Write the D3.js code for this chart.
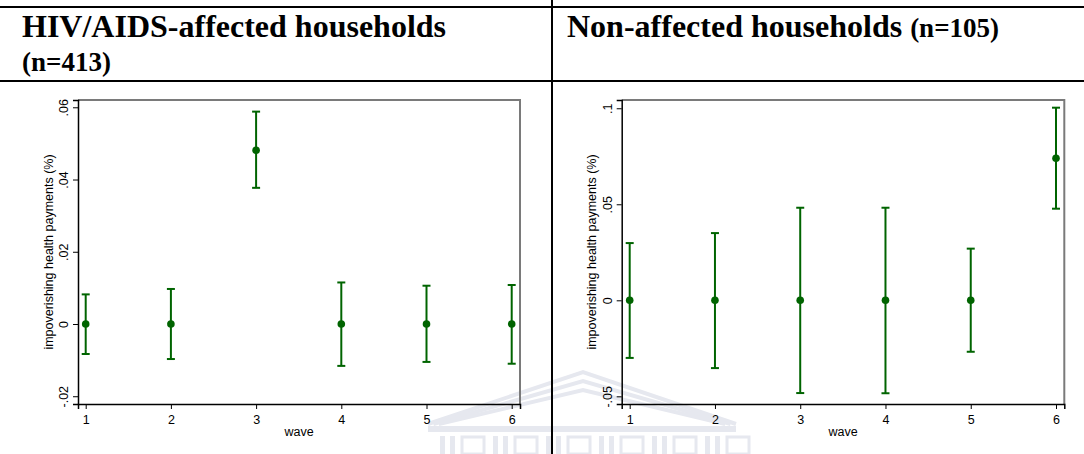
<!DOCTYPE html>
<html>
<head>
<meta charset="utf-8">
<script src="https://cdn.jsdelivr.net/npm/d3@7"></script>
<style>
  html, body { margin: 0; padding: 0; background: #fff; }
  svg { display: block; }
</style>
</head>
<body>
<svg id="chart" width="1084" height="454"></svg>
<script>
// Survey waves on the x axis
const waves = [1, 2, 3, 4, 5, 6];

// HIV/AIDS-affected households: mean share and 95% interval bounds
const affectedMean  = [0, 0, 0.0481, 0, 0, 0];
const affectedLower = [-0.0083, -0.0097, 0.0377, -0.0116, -0.0105, -0.0110];
const affectedUpper = [0.0082, 0.0097, 0.0588, 0.0115, 0.0106, 0.0108];

// Non-affected households
const nonAffectedMean  = [0, 0, 0, 0, 0, 0.0740];
const nonAffectedLower = [-0.0300, -0.0353, -0.0483, -0.0484, -0.0268, 0.0477];
const nonAffectedUpper = [0.0298, 0.0350, 0.0482, 0.0482, 0.0269, 0.1003];

// Axis ticks
const affectedTicks    = [-0.02, 0, 0.02, 0.04, 0.06];
const nonAffectedTicks = [-0.05, 0, 0.05, 0.1];
const waveTicks        = [1, 2, 3, 4, 5, 6];

// Panel headings
const panelTitles = ["HIV/AIDS-affected households", "Non-affected households"];
const panelCounts = ["(n=413)", "(n=105)"];
const yAxisTitle = "impoverishing health payments (%)";
const xAxisTitle = "wave";

const GREEN = "#006400";
const SANS = "'Liberation Sans', Arial, sans-serif";
const SERIF = "'Liberation Serif', 'Times New Roman', serif";

const svg = d3.select("#chart");

// Faint building emblem in the background
(function drawEmblem() {
  const g = svg.append("g").attr("class", "emblem");
  const col = "#e6e8ef";
  const apexX = 583, apexY = 372;
  [0, 9, 18].forEach(off => {
    g.append("polyline")
      .attr("points", `${428 + off * 0.6},${424} ${apexX},${apexY + off} ${736 - off * 0.6},${424}`)
      .attr("fill", "none").attr("stroke", col).attr("stroke-width", 4);
  });
  g.append("rect").attr("x", 428).attr("y", 426).attr("width", 308).attr("height", 6)
    .attr("fill", col);
  for (let i = 0; i < 6; i++) {
    const bx = 440 + i * 53;
    g.append("rect").attr("x", bx).attr("y", 436).attr("width", 5).attr("height", 18).attr("fill", col);
    g.append("rect").attr("x", bx + 10).attr("y", 436).attr("width", 5).attr("height", 18).attr("fill", col);
    g.append("rect").attr("x", bx + 22).attr("y", 437).attr("width", 22).attr("height", 17)
      .attr("fill", "none").attr("stroke", col).attr("stroke-width", 3);
  }
})();

// Table rules framing the two headings
svg.append("line").attr("x1", 0).attr("x2", 1084).attr("y1", 7).attr("y2", 7)
  .attr("stroke", "#000").attr("stroke-width", 2);
svg.append("line").attr("x1", 0).attr("x2", 1084).attr("y1", 81).attr("y2", 81)
  .attr("stroke", "#000").attr("stroke-width", 2);
svg.append("line").attr("x1", 552).attr("x2", 552).attr("y1", 0).attr("y2", 454)
  .attr("stroke", "#000").attr("stroke-width", 2);

// Headings
svg.append("text").attr("x", 22).attr("y", 37)
  .attr("font-family", SERIF).attr("font-weight", "bold").attr("font-size", 32)
  .text(panelTitles[0]);
svg.append("text").attr("x", 22).attr("y", 71)
  .attr("font-family", SERIF).attr("font-weight", "bold").attr("font-size", 27)
  .text(panelCounts[0]);
const t2 = svg.append("text").attr("x", 567).attr("y", 37)
  .attr("font-family", SERIF).attr("font-weight", "bold").attr("font-size", 32);
t2.append("tspan").text(panelTitles[1] + " ");
t2.append("tspan").attr("font-size", 27).text(panelCounts[1]);

const fmtTick = d => d === 0 ? "0" : String(d).replace("0.", ".");

function drawPanel(cfg) {
  const x = d3.scaleLinear().domain(cfg.xDomain).range([cfg.left, cfg.right]);
  const y = d3.scaleLinear().domain(cfg.yDomain).range([cfg.bottom, cfg.top]);
  const g = svg.append("g");

  // plot region outline (top & right)
  g.append("path")
    .attr("d", `M${cfg.left},${cfg.top}H${cfg.right}V${cfg.bottom}`)
    .attr("fill", "none").attr("stroke", "#7a7a7a").attr("stroke-width", 2);

  // y axis
  const ya = g.append("g").attr("transform", `translate(${cfg.left},0)`)
    .call(d3.axisLeft(y).tickValues(cfg.yTicks).tickSize(5).tickFormat(fmtTick));
  ya.select(".domain").attr("stroke", "#000").attr("stroke-width", 1.5);
  ya.selectAll(".tick line").attr("stroke", "#000").attr("stroke-width", 1);
  ya.selectAll(".tick text")
    .attr("x", null).attr("dy", null).attr("y", null)
    .attr("transform", "translate(-10,0) rotate(-90)")
    .attr("text-anchor", "middle")
    .attr("font-family", SANS).attr("font-size", 12.5).attr("fill", "#000");

  // x axis
  const xa = g.append("g").attr("transform", `translate(0,${cfg.bottom})`)
    .call(d3.axisBottom(x).tickValues(waveTicks).tickSize(5).tickFormat(d3.format("d")));
  xa.select(".domain").attr("stroke", "#000").attr("stroke-width", 1.5);
  xa.selectAll(".tick line").attr("stroke", "#000").attr("stroke-width", 1);
  xa.selectAll(".tick text").attr("y", 11.5)
    .attr("font-family", SANS).attr("font-size", 12.5).attr("fill", "#000");

  // axis titles
  g.append("text")
    .attr("transform", `translate(${cfg.left - 25.5},${(cfg.top + cfg.bottom) / 2}) rotate(-90)`)
    .attr("text-anchor", "middle")
    .attr("font-family", SANS).attr("font-size", 12.5)
    .text(yAxisTitle);
  g.append("text")
    .attr("x", (cfg.left + cfg.right) / 2).attr("y", 436)
    .attr("text-anchor", "middle")
    .attr("font-family", SANS).attr("font-size", 12.5)
    .text(xAxisTitle);

  // error bars with means
  const rows = waves.map((w, i) => ({ w, m: cfg.mean[i], lo: cfg.lower[i], hi: cfg.upper[i] }));
  const bars = g.append("g").selectAll("g").data(rows).join("g");
  bars.append("line")
    .attr("x1", d => x(d.w)).attr("x2", d => x(d.w))
    .attr("y1", d => y(d.lo)).attr("y2", d => y(d.hi))
    .attr("stroke", GREEN).attr("stroke-width", 2);
  bars.append("line")
    .attr("x1", d => x(d.w) - 4).attr("x2", d => x(d.w) + 4)
    .attr("y1", d => y(d.hi)).attr("y2", d => y(d.hi))
    .attr("stroke", GREEN).attr("stroke-width", 2);
  bars.append("line")
    .attr("x1", d => x(d.w) - 4).attr("x2", d => x(d.w) + 4)
    .attr("y1", d => y(d.lo)).attr("y2", d => y(d.lo))
    .attr("stroke", GREEN).attr("stroke-width", 2);
  bars.append("circle")
    .attr("cx", d => x(d.w)).attr("cy", d => y(d.m)).attr("r", 3.8)
    .attr("fill", GREEN);
}

drawPanel({
  left: 78, right: 520, top: 100, bottom: 404,
  xDomain: [0.9096, 6.0974], yDomain: [-0.02215, 0.06202],
  yTicks: affectedTicks,
  mean: affectedMean, lower: affectedLower, upper: affectedUpper
});

drawPanel({
  left: 621.7, right: 1064.3, top: 100, bottom: 404,
  xDomain: [0.9062, 6.0973], yDomain: [-0.054, 0.1043],
  yTicks: nonAffectedTicks,
  mean: nonAffectedMean, lower: nonAffectedLower, upper: nonAffectedUpper
});
</script>
</body>
</html>
